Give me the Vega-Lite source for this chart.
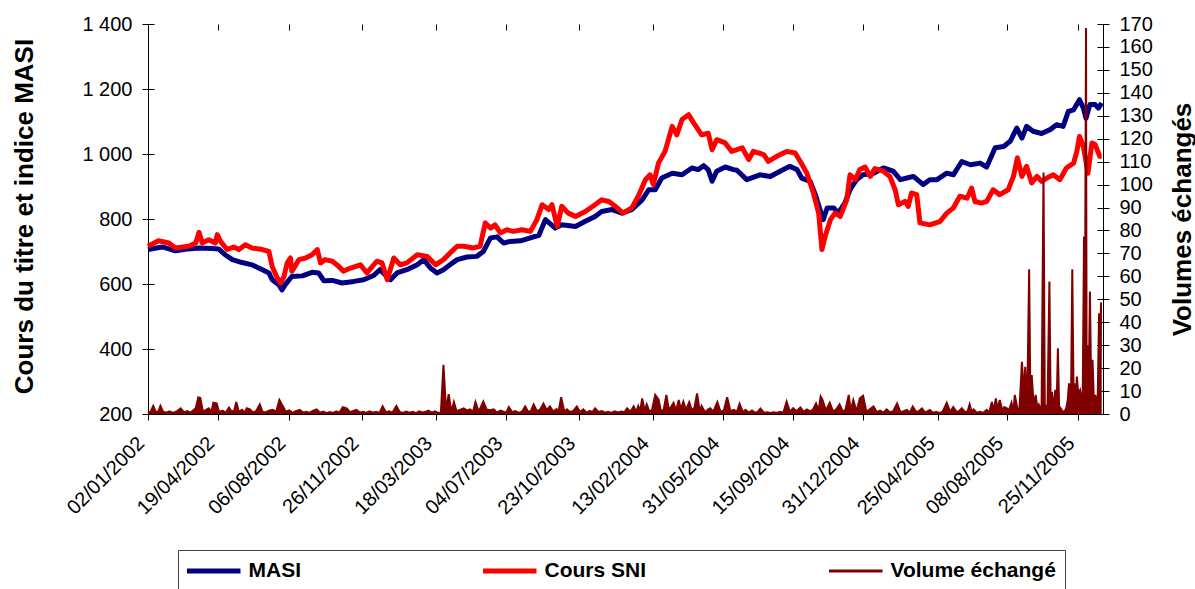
{
  "$schema": "https://vega.github.io/schema/vega-lite/v6.json",
  "width": 955,
  "height": 390,
  "autosize": "none",
  "padding": {"left": 148, "top": 24, "right": 92, "bottom": 175},
  "background": "white",
  "config": {
    "view": {"stroke": null},
    "font": "Liberation Sans",
    "axis": {"domainColor": "#000", "tickColor": "#000", "labelColor": "#000", "titleColor": "#000", "labelFont": "Liberation Sans", "labelFontSize": 20, "grid": false, "domainWidth": 1, "tickWidth": 1, "titleFont": "Liberation Sans", "titleFontSize": 26, "titleFontWeight": "bold"}
  },
  "datasets": {
    "masi": [
      {"d":"2002-01-02","v":706},{"d":"2002-01-24","v":714},{"d":"2002-02-13","v":702},{"d":"2002-03-05","v":708},{"d":"2002-03-21","v":711},{"d":"2002-04-10","v":709},{"d":"2002-04-20","v":708},{"d":"2002-04-30","v":690},{"d":"2002-05-11","v":675},{"d":"2002-05-26","v":666},{"d":"2002-06-10","v":659},{"d":"2002-06-26","v":644},{"d":"2002-07-06","v":634},{"d":"2002-07-11","v":613},{"d":"2002-07-21","v":598},{"d":"2002-07-26","v":582},{"d":"2002-07-31","v":598},{"d":"2002-08-10","v":623},{"d":"2002-08-26","v":625},{"d":"2002-09-10","v":636},{"d":"2002-09-20","v":634},{"d":"2002-09-28","v":610},{"d":"2002-10-11","v":611},{"d":"2002-10-26","v":603},{"d":"2002-11-13","v":608},{"d":"2002-11-28","v":613},{"d":"2002-12-13","v":626},{"d":"2002-12-23","v":644},{"d":"2002-12-31","v":628},
      {"d":"2003-01-08","v":613},{"d":"2003-01-18","v":634},{"d":"2003-02-02","v":644},{"d":"2003-02-18","v":659},{"d":"2003-02-28","v":675},{"d":"2003-03-10","v":649},{"d":"2003-03-20","v":634},{"d":"2003-03-30","v":644},{"d":"2003-04-09","v":659},{"d":"2003-04-20","v":675},{"d":"2003-05-05","v":683},{"d":"2003-05-20","v":685},{"d":"2003-05-30","v":700},{"d":"2003-06-10","v":742},{"d":"2003-06-20","v":745},{"d":"2003-06-30","v":726},{"d":"2003-07-10","v":731},{"d":"2003-07-26","v":733},{"d":"2003-08-10","v":742},{"d":"2003-08-23","v":750},{"d":"2003-09-02","v":798},{"d":"2003-09-17","v":772},{"d":"2003-09-27","v":782},{"d":"2003-10-18","v":777},{"d":"2003-11-02","v":793},{"d":"2003-11-17","v":808},{"d":"2003-11-27","v":823},{"d":"2003-12-13","v":829},{"d":"2003-12-28","v":818},
      {"d":"2004-01-12","v":829},{"d":"2004-01-28","v":859},{"d":"2004-02-07","v":890},{"d":"2004-02-17","v":890},{"d":"2004-02-27","v":926},{"d":"2004-03-14","v":941},{"d":"2004-03-29","v":936},{"d":"2004-04-13","v":957},{"d":"2004-04-23","v":952},{"d":"2004-05-01","v":964},{"d":"2004-05-08","v":952},{"d":"2004-05-14","v":916},{"d":"2004-05-21","v":947},{"d":"2004-06-03","v":960},{"d":"2004-06-16","v":952},{"d":"2004-06-21","v":950},{"d":"2004-07-06","v":921},{"d":"2004-07-26","v":936},{"d":"2004-08-11","v":931},{"d":"2004-08-26","v":947},{"d":"2004-09-10","v":962},{"d":"2004-09-21","v":952},{"d":"2004-09-28","v":926},{"d":"2004-10-11","v":916},{"d":"2004-10-19","v":875},{"d":"2004-10-26","v":829},{"d":"2004-10-31","v":798},{"d":"2004-11-06","v":834},{"d":"2004-11-16","v":834},{"d":"2004-11-23","v":818},{"d":"2004-12-03","v":849},{"d":"2004-12-11","v":890},{"d":"2004-12-21","v":921},{"d":"2004-12-31","v":936},
      {"d":"2005-01-16","v":941},{"d":"2005-01-31","v":957},{"d":"2005-02-15","v":947},{"d":"2005-02-26","v":921},{"d":"2005-03-08","v":926},{"d":"2005-03-18","v":931},{"d":"2005-04-02","v":906},{"d":"2005-04-12","v":921},{"d":"2005-04-23","v":921},{"d":"2005-05-08","v":941},{"d":"2005-05-18","v":936},{"d":"2005-05-31","v":977},{"d":"2005-06-13","v":967},{"d":"2005-06-28","v":972},{"d":"2005-07-08","v":960},{"d":"2005-07-21","v":1019},{"d":"2005-08-03","v":1023},{"d":"2005-08-13","v":1039},{"d":"2005-08-23","v":1080},{"d":"2005-08-31","v":1049},{"d":"2005-09-07","v":1085},{"d":"2005-09-17","v":1070},{"d":"2005-09-30","v":1063},{"d":"2005-10-13","v":1075},{"d":"2005-10-23","v":1090},{"d":"2005-11-02","v":1085},{"d":"2005-11-10","v":1131},{"d":"2005-11-18","v":1136},{"d":"2005-11-27","v":1167},{"d":"2005-12-03","v":1141},{"d":"2005-12-07","v":1110},{"d":"2005-12-13","v":1152},{"d":"2005-12-21","v":1152},{"d":"2005-12-26","v":1141},{"d":"2005-12-31","v":1157}
    ],
    "sni": [
      {"d":"2002-01-02","v":716},{"d":"2002-01-18","v":733},{"d":"2002-02-03","v":726},{"d":"2002-02-13","v":711},{"d":"2002-03-05","v":716},{"d":"2002-03-16","v":726},{"d":"2002-03-21","v":759},{"d":"2002-03-26","v":726},{"d":"2002-04-05","v":736},{"d":"2002-04-15","v":726},{"d":"2002-04-18","v":752},{"d":"2002-04-23","v":731},{"d":"2002-05-03","v":706},{"d":"2002-05-13","v":714},{"d":"2002-05-21","v":706},{"d":"2002-05-31","v":721},{"d":"2002-06-10","v":711},{"d":"2002-06-26","v":706},{"d":"2002-07-06","v":700},{"d":"2002-07-11","v":654},{"d":"2002-07-19","v":618},{"d":"2002-07-24","v":603},{"d":"2002-07-29","v":623},{"d":"2002-08-03","v":665},{"d":"2002-08-08","v":680},{"d":"2002-08-10","v":639},{"d":"2002-08-21","v":675},{"d":"2002-08-31","v":680},{"d":"2002-09-10","v":690},{"d":"2002-09-18","v":706},{"d":"2002-09-23","v":665},{"d":"2002-09-30","v":675},{"d":"2002-10-11","v":670},{"d":"2002-10-21","v":654},{"d":"2002-10-28","v":639},{"d":"2002-11-08","v":649},{"d":"2002-11-23","v":659},{"d":"2002-12-03","v":634},{"d":"2002-12-18","v":670},{"d":"2002-12-26","v":665},
      {"d":"2003-01-03","v":613},{"d":"2003-01-13","v":680},{"d":"2003-01-23","v":659},{"d":"2003-02-02","v":665},{"d":"2003-02-18","v":690},{"d":"2003-03-05","v":685},{"d":"2003-03-18","v":659},{"d":"2003-03-30","v":675},{"d":"2003-04-09","v":695},{"d":"2003-04-20","v":716},{"d":"2003-04-30","v":716},{"d":"2003-05-15","v":711},{"d":"2003-05-25","v":716},{"d":"2003-06-02","v":788},{"d":"2003-06-10","v":772},{"d":"2003-06-17","v":782},{"d":"2003-06-25","v":757},{"d":"2003-07-05","v":767},{"d":"2003-07-15","v":762},{"d":"2003-07-28","v":767},{"d":"2003-08-10","v":762},{"d":"2003-08-20","v":798},{"d":"2003-08-28","v":844},{"d":"2003-09-07","v":829},{"d":"2003-09-12","v":844},{"d":"2003-09-20","v":777},{"d":"2003-09-27","v":839},{"d":"2003-10-07","v":818},{"d":"2003-10-18","v":808},{"d":"2003-11-02","v":823},{"d":"2003-11-17","v":844},{"d":"2003-11-27","v":859},{"d":"2003-12-08","v":854},{"d":"2003-12-18","v":839},{"d":"2003-12-30","v":818},
      {"d":"2004-01-12","v":834},{"d":"2004-01-22","v":870},{"d":"2004-02-02","v":921},{"d":"2004-02-09","v":936},{"d":"2004-02-14","v":906},{"d":"2004-02-22","v":972},{"d":"2004-03-03","v":1008},{"d":"2004-03-14","v":1085},{"d":"2004-03-21","v":1059},{"d":"2004-03-29","v":1106},{"d":"2004-04-08","v":1121},{"d":"2004-04-16","v":1095},{"d":"2004-04-28","v":1059},{"d":"2004-05-08","v":1064},{"d":"2004-05-14","v":1013},{"d":"2004-05-21","v":1044},{"d":"2004-06-03","v":1034},{"d":"2004-06-13","v":1008},{"d":"2004-06-29","v":1019},{"d":"2004-07-09","v":983},{"d":"2004-07-16","v":1008},{"d":"2004-08-01","v":998},{"d":"2004-08-08","v":977},{"d":"2004-08-21","v":993},{"d":"2004-09-05","v":1008},{"d":"2004-09-18","v":1003},{"d":"2004-09-26","v":977},{"d":"2004-10-06","v":941},{"d":"2004-10-16","v":880},{"d":"2004-10-24","v":818},{"d":"2004-10-29","v":706},{"d":"2004-11-03","v":747},{"d":"2004-11-11","v":798},{"d":"2004-11-18","v":818},{"d":"2004-11-26","v":808},{"d":"2004-12-06","v":859},{"d":"2004-12-11","v":936},{"d":"2004-12-19","v":921},{"d":"2004-12-26","v":952},
      {"d":"2005-01-03","v":960},{"d":"2005-01-11","v":931},{"d":"2005-01-18","v":955},{"d":"2005-01-31","v":947},{"d":"2005-02-10","v":931},{"d":"2005-02-18","v":890},{"d":"2005-02-23","v":844},{"d":"2005-03-05","v":854},{"d":"2005-03-10","v":839},{"d":"2005-03-15","v":880},{"d":"2005-03-23","v":875},{"d":"2005-03-28","v":788},{"d":"2005-04-12","v":782},{"d":"2005-04-28","v":793},{"d":"2005-05-08","v":818},{"d":"2005-05-18","v":834},{"d":"2005-05-28","v":870},{"d":"2005-06-08","v":864},{"d":"2005-06-15","v":895},{"d":"2005-06-20","v":854},{"d":"2005-06-30","v":849},{"d":"2005-07-08","v":854},{"d":"2005-07-18","v":890},{"d":"2005-07-28","v":875},{"d":"2005-08-10","v":890},{"d":"2005-08-18","v":931},{"d":"2005-08-24","v":988},{"d":"2005-08-31","v":931},{"d":"2005-09-07","v":962},{"d":"2005-09-15","v":911},{"d":"2005-09-23","v":931},{"d":"2005-09-30","v":916},{"d":"2005-10-08","v":926},{"d":"2005-10-18","v":936},{"d":"2005-10-28","v":921},{"d":"2005-11-07","v":957},{"d":"2005-11-18","v":972},{"d":"2005-11-23","v":1008},{"d":"2005-11-27","v":1054},{"d":"2005-12-03","v":1023},{"d":"2005-12-10","v":941},{"d":"2005-12-16","v":1034},{"d":"2005-12-21","v":1029},{"d":"2005-12-28","v":993},{"d":"2005-12-31","v":993}
    ],
    "vol": [
      {"d":"2002-01-02","v":0.4},{"d":"2002-01-06","v":1.0},{"d":"2002-01-10","v":3.5},{"d":"2002-01-14","v":0.8},{"d":"2002-01-18","v":1.2},{"d":"2002-01-21","v":3.5},{"d":"2002-01-25","v":1.0},{"d":"2002-01-30","v":0.6},{"d":"2002-02-04","v":1.2},{"d":"2002-02-09","v":0.5},{"d":"2002-02-14","v":1.0},{"d":"2002-02-21","v":2.5},{"d":"2002-02-26","v":0.7},{"d":"2002-03-03","v":1.3},{"d":"2002-03-08","v":0.6},{"d":"2002-03-12","v":1.5},{"d":"2002-03-16","v":2.5},{"d":"2002-03-20","v":7.3},{"d":"2002-03-23","v":7.0},{"d":"2002-03-27","v":1.0},{"d":"2002-04-01","v":1.8},{"d":"2002-04-05","v":2.5},{"d":"2002-04-09","v":1.0},{"d":"2002-04-12","v":4.9},{"d":"2002-04-17","v":4.6},{"d":"2002-04-21","v":0.8},{"d":"2002-04-26","v":1.5},{"d":"2002-05-01","v":0.6},{"d":"2002-05-06","v":2.8},{"d":"2002-05-10","v":1.0},{"d":"2002-05-14","v":1.6},{"d":"2002-05-17","v":5.2},{"d":"2002-05-21","v":1.0},{"d":"2002-05-26","v":1.8},{"d":"2002-05-30","v":0.6},{"d":"2002-06-02","v":2.5},{"d":"2002-06-07","v":2.0},{"d":"2002-06-12","v":0.6},{"d":"2002-06-17","v":1.5},{"d":"2002-06-22","v":4.2},{"d":"2002-06-26","v":1.0},{"d":"2002-07-01","v":0.7},{"d":"2002-07-06","v":1.4},{"d":"2002-07-12","v":1.8},{"d":"2002-07-17","v":0.9},{"d":"2002-07-22","v":6.1},{"d":"2002-07-27","v":3.5},{"d":"2002-08-01","v":1.0},{"d":"2002-08-06","v":1.6},{"d":"2002-08-11","v":0.5},{"d":"2002-08-16","v":1.2},{"d":"2002-08-22","v":1.8},{"d":"2002-08-27","v":0.6},{"d":"2002-09-01","v":1.0},{"d":"2002-09-06","v":0.5},{"d":"2002-09-11","v":1.3},{"d":"2002-09-17","v":2.0},{"d":"2002-09-22","v":0.6},{"d":"2002-09-27","v":1.1},{"d":"2002-10-02","v":0.4},{"d":"2002-10-07","v":0.9},{"d":"2002-10-12","v":0.5},{"d":"2002-10-17","v":1.2},{"d":"2002-10-22","v":0.6},{"d":"2002-10-27","v":3.0},{"d":"2002-11-02","v":2.5},{"d":"2002-11-07","v":0.8},{"d":"2002-11-12","v":1.3},{"d":"2002-11-17","v":1.8},{"d":"2002-11-22","v":0.6},{"d":"2002-11-27","v":1.0},{"d":"2002-12-02","v":0.5},{"d":"2002-12-07","v":1.2},{"d":"2002-12-12","v":0.6},{"d":"2002-12-17","v":1.0},{"d":"2002-12-22","v":0.5},{"d":"2002-12-27","v":3.3},
      {"d":"2003-01-01","v":0.8},{"d":"2003-01-06","v":1.2},{"d":"2003-01-11","v":0.6},{"d":"2003-01-17","v":3.5},{"d":"2003-01-22","v":0.9},{"d":"2003-01-27","v":0.5},{"d":"2003-02-01","v":1.1},{"d":"2003-02-06","v":0.6},{"d":"2003-02-11","v":1.0},{"d":"2003-02-16","v":0.4},{"d":"2003-02-21","v":1.2},{"d":"2003-02-26","v":0.7},{"d":"2003-03-03","v":1.0},{"d":"2003-03-07","v":1.5},{"d":"2003-03-12","v":0.6},{"d":"2003-03-17","v":1.2},{"d":"2003-03-22","v":0.5},{"d":"2003-03-26","v":0.3},{"d":"2003-03-30","v":21.4},{"d":"2003-04-03","v":1.5},{"d":"2003-04-07","v":8.7},{"d":"2003-04-11","v":1.0},{"d":"2003-04-15","v":5.2},{"d":"2003-04-19","v":1.2},{"d":"2003-04-24","v":1.8},{"d":"2003-04-30","v":2.5},{"d":"2003-05-05","v":1.5},{"d":"2003-05-10","v":2.0},{"d":"2003-05-14","v":0.8},{"d":"2003-05-18","v":5.2},{"d":"2003-05-23","v":1.0},{"d":"2003-05-30","v":5.4},{"d":"2003-06-04","v":2.0},{"d":"2003-06-09","v":1.6},{"d":"2003-06-15","v":2.0},{"d":"2003-06-20","v":0.6},{"d":"2003-06-25","v":1.5},{"d":"2003-06-30","v":1.0},{"d":"2003-07-04","v":0.6},{"d":"2003-07-08","v":3.0},{"d":"2003-07-13","v":0.8},{"d":"2003-07-18","v":1.3},{"d":"2003-07-23","v":0.5},{"d":"2003-07-28","v":1.0},{"d":"2003-08-02","v":3.3},{"d":"2003-08-07","v":0.8},{"d":"2003-08-11","v":1.5},{"d":"2003-08-15","v":4.2},{"d":"2003-08-20","v":1.2},{"d":"2003-08-25","v":2.0},{"d":"2003-08-30","v":4.5},{"d":"2003-09-04","v":1.8},{"d":"2003-09-09","v":3.3},{"d":"2003-09-14","v":1.0},{"d":"2003-09-19","v":2.2},{"d":"2003-09-22","v":0.8},{"d":"2003-09-26","v":7.3},{"d":"2003-10-01","v":1.0},{"d":"2003-10-05","v":2.0},{"d":"2003-10-10","v":0.8},{"d":"2003-10-15","v":1.5},{"d":"2003-10-20","v":3.3},{"d":"2003-10-25","v":0.9},{"d":"2003-10-30","v":2.0},{"d":"2003-11-04","v":0.6},{"d":"2003-11-09","v":1.4},{"d":"2003-11-13","v":0.8},{"d":"2003-11-17","v":2.5},{"d":"2003-11-22","v":0.9},{"d":"2003-11-27","v":1.3},{"d":"2003-12-02","v":0.6},{"d":"2003-12-07","v":1.0},{"d":"2003-12-12","v":0.5},{"d":"2003-12-17","v":1.2},{"d":"2003-12-22","v":0.7},{"d":"2003-12-27","v":1.1},
      {"d":"2004-01-01","v":0.8},{"d":"2004-01-05","v":2.5},{"d":"2004-01-10","v":1.0},{"d":"2004-01-15","v":3.3},{"d":"2004-01-19","v":0.9},{"d":"2004-01-22","v":3.5},{"d":"2004-01-25","v":1.2},{"d":"2004-01-28","v":6.8},{"d":"2004-02-01","v":1.5},{"d":"2004-02-04","v":4.2},{"d":"2004-02-08","v":1.0},{"d":"2004-02-12","v":1.8},{"d":"2004-02-17","v":8.3},{"d":"2004-02-22","v":6.4},{"d":"2004-02-26","v":1.0},{"d":"2004-03-01","v":2.0},{"d":"2004-03-05","v":8.3},{"d":"2004-03-09","v":1.5},{"d":"2004-03-12","v":3.0},{"d":"2004-03-16","v":4.9},{"d":"2004-03-20","v":1.5},{"d":"2004-03-24","v":6.1},{"d":"2004-03-27","v":2.0},{"d":"2004-03-31","v":5.4},{"d":"2004-04-04","v":1.8},{"d":"2004-04-09","v":5.2},{"d":"2004-04-13","v":1.5},{"d":"2004-04-17","v":2.8},{"d":"2004-04-21","v":9.0},{"d":"2004-04-25","v":1.2},{"d":"2004-04-28","v":3.5},{"d":"2004-05-03","v":0.8},{"d":"2004-05-07","v":1.8},{"d":"2004-05-11","v":2.5},{"d":"2004-05-16","v":1.0},{"d":"2004-05-22","v":5.2},{"d":"2004-05-27","v":1.0},{"d":"2004-06-01","v":1.5},{"d":"2004-06-06","v":7.3},{"d":"2004-06-11","v":1.2},{"d":"2004-06-16","v":1.8},{"d":"2004-06-21","v":1.0},{"d":"2004-06-25","v":4.5},{"d":"2004-06-30","v":0.8},{"d":"2004-07-04","v":1.8},{"d":"2004-07-09","v":0.6},{"d":"2004-07-14","v":1.5},{"d":"2004-07-19","v":0.5},{"d":"2004-07-23","v":1.0},{"d":"2004-07-27","v":2.4},{"d":"2004-08-01","v":0.6},{"d":"2004-08-06","v":0.8},{"d":"2004-08-11","v":0.4},{"d":"2004-08-16","v":0.8},{"d":"2004-08-21","v":0.5},{"d":"2004-08-26","v":1.0},{"d":"2004-08-31","v":0.6},{"d":"2004-09-05","v":5.4},{"d":"2004-09-10","v":1.0},{"d":"2004-09-15","v":2.5},{"d":"2004-09-20","v":1.2},{"d":"2004-09-26","v":2.8},{"d":"2004-10-01","v":1.0},{"d":"2004-10-06","v":2.0},{"d":"2004-10-11","v":1.2},{"d":"2004-10-15","v":1.8},{"d":"2004-10-20","v":4.6},{"d":"2004-10-24","v":1.5},{"d":"2004-10-27","v":7.6},{"d":"2004-10-30","v":6.1},{"d":"2004-11-04","v":1.5},{"d":"2004-11-10","v":4.9},{"d":"2004-11-15","v":1.2},{"d":"2004-11-20","v":2.0},{"d":"2004-11-25","v":4.2},{"d":"2004-11-30","v":1.0},{"d":"2004-12-04","v":1.8},{"d":"2004-12-09","v":8.3},{"d":"2004-12-12","v":1.5},{"d":"2004-12-16","v":6.1},{"d":"2004-12-21","v":1.2},{"d":"2004-12-26","v":6.8},{"d":"2004-12-31","v":7.9},
      {"d":"2005-01-05","v":1.0},{"d":"2005-01-10","v":2.0},{"d":"2005-01-16","v":3.3},{"d":"2005-01-21","v":0.8},{"d":"2005-01-26","v":1.5},{"d":"2005-01-31","v":0.6},{"d":"2005-02-05","v":2.0},{"d":"2005-02-10","v":0.8},{"d":"2005-02-15","v":1.2},{"d":"2005-02-21","v":4.6},{"d":"2005-02-26","v":0.8},{"d":"2005-03-03","v":1.2},{"d":"2005-03-08","v":1.8},{"d":"2005-03-12","v":0.6},{"d":"2005-03-17","v":3.3},{"d":"2005-03-22","v":0.9},{"d":"2005-03-26","v":1.2},{"d":"2005-03-31","v":2.4},{"d":"2005-04-05","v":0.6},{"d":"2005-04-12","v":1.8},{"d":"2005-04-17","v":0.5},{"d":"2005-04-22","v":1.0},{"d":"2005-04-27","v":0.4},{"d":"2005-05-02","v":1.2},{"d":"2005-05-08","v":4.9},{"d":"2005-05-13","v":1.0},{"d":"2005-05-18","v":3.0},{"d":"2005-05-23","v":0.8},{"d":"2005-05-27","v":1.3},{"d":"2005-05-31","v":2.5},{"d":"2005-06-05","v":0.8},{"d":"2005-06-09","v":1.2},{"d":"2005-06-12","v":4.2},{"d":"2005-06-15","v":1.0},{"d":"2005-06-18","v":2.0},{"d":"2005-06-23","v":0.6},{"d":"2005-06-28","v":1.0},{"d":"2005-07-03","v":0.5},{"d":"2005-07-08","v":1.8},{"d":"2005-07-12","v":0.8},{"d":"2005-07-16","v":5.2},{"d":"2005-07-19","v":1.5},{"d":"2005-07-22","v":6.8},{"d":"2005-07-25","v":2.0},{"d":"2005-07-28","v":6.1},{"d":"2005-08-01","v":1.5},{"d":"2005-08-04","v":3.0},{"d":"2005-08-08","v":2.5},{"d":"2005-08-11","v":1.5},{"d":"2005-08-15","v":4.9},{"d":"2005-08-18","v":1.2},{"d":"2005-08-20","v":8.3},{"d":"2005-08-24","v":2.5},{"d":"2005-08-27","v":1.0},{"d":"2005-08-31","v":22.8},{"d":"2005-09-03","v":8.0},{"d":"2005-09-05","v":20.6},{"d":"2005-09-08","v":2.0},{"d":"2005-09-11","v":63.1},{"d":"2005-09-13","v":4.0},{"d":"2005-09-15","v":17.0},{"d":"2005-09-18","v":3.0},{"d":"2005-09-21","v":8.3},{"d":"2005-09-24","v":1.5},{"d":"2005-09-26","v":3.9},{"d":"2005-09-30","v":1.2},{"d":"2005-10-03","v":105.3},{"d":"2005-10-05","v":1.5},{"d":"2005-10-07","v":3.9},{"d":"2005-10-09","v":1.0},{"d":"2005-10-12","v":57.7},{"d":"2005-10-14","v":2.0},{"d":"2005-10-16","v":9.7},{"d":"2005-10-18","v":1.5},{"d":"2005-10-21","v":10.5},{"d":"2005-10-23","v":2.0},{"d":"2005-10-25","v":28.7},{"d":"2005-10-27","v":1.0},{"d":"2005-10-29","v":2.5},{"d":"2005-11-02","v":0.8},{"d":"2005-11-05","v":1.5},{"d":"2005-11-07","v":2.9},{"d":"2005-11-09","v":6.0},{"d":"2005-11-11","v":13.4},{"d":"2005-11-14","v":4.0},{"d":"2005-11-16","v":63.1},{"d":"2005-11-18","v":8.0},{"d":"2005-11-19","v":13.4},{"d":"2005-11-21","v":5.0},{"d":"2005-11-23","v":16.3},{"d":"2005-11-25","v":9.0},{"d":"2005-11-28","v":10.5},{"d":"2005-11-30","v":7.0},{"d":"2005-12-02","v":8.9},{"d":"2005-12-04","v":77.4},{"d":"2005-12-05","v":5.0},{"d":"2005-12-07","v":168.3},{"d":"2005-12-08","v":6.0},{"d":"2005-12-10","v":30.0},{"d":"2005-12-11","v":7.0},{"d":"2005-12-13","v":53.4},{"d":"2005-12-15","v":10.0},{"d":"2005-12-17","v":23.6},{"d":"2005-12-19","v":6.0},{"d":"2005-12-21","v":8.3},{"d":"2005-12-23","v":5.0},{"d":"2005-12-25","v":8.3},{"d":"2005-12-27","v":43.9},{"d":"2005-12-28","v":10.0},{"d":"2005-12-30","v":48.3},{"d":"2005-12-31","v":48.3}
    ]
  },
  "layer": [
    {
      "data": {"name": "masi"},
      "mark": {"type": "line", "strokeWidth": 5, "strokeJoin": "round"},
      "encoding": {
        "x": {"field": "d", "type": "temporal",
          "scale": {"type": "utc", "domain": [{"year": 2002, "month": 1, "date": 2, "utc": true}, {"year": 2006, "month": 1, "date": 2, "utc": true}]},
          "axis": {"title": null, "tickSize": 6, "labelAngle": -45, "labelAlign": "right", "labelBaseline": "middle", "labelPadding": 20, "labelOffset": -7, "labelOverlap": false, "labelBound": false, "labelFlush": false,
            "labelExpr": "utcFormat(datum.value, '%d/%m/%Y')",
            "values": [{"year":2002,"month":1,"date":2,"utc":true},{"year":2002,"month":4,"date":19,"utc":true},{"year":2002,"month":8,"date":6,"utc":true},{"year":2002,"month":11,"date":26,"utc":true},{"year":2003,"month":3,"date":18,"utc":true},{"year":2003,"month":7,"date":4,"utc":true},{"year":2003,"month":10,"date":23,"utc":true},{"year":2004,"month":2,"date":13,"utc":true},{"year":2004,"month":5,"date":31,"utc":true},{"year":2004,"month":9,"date":15,"utc":true},{"year":2004,"month":12,"date":31,"utc":true},{"year":2005,"month":4,"date":25,"utc":true},{"year":2005,"month":8,"date":8,"utc":true},{"year":2005,"month":11,"date":25,"utc":true}]}},
        "y": {"field": "v", "type": "quantitative",
          "scale": {"domain": [200, 1400], "nice": false, "zero": false},
          "axis": {"orient": "left", "values": [200, 400, 600, 800, 1000, 1200, 1400], "labelExpr": "replace(format(datum.value, ','), ',', ' ')", "tickSize": 6, "labelPadding": 10,
            "title": "Cours du titre et indice MASI", "titleAngle": 270, "titleX": -116, "titleY": 192, "titleAlign": "center", "titleBaseline": "alphabetic"}},
        "color": {"datum": "MASI", "type": "nominal",
          "scale": {"domain": ["MASI", "Cours SNI", "Volume échangé"], "range": ["#000080", "#FF0000", "#800000"]},
          "legend": {"orient": "none", "legendX": 30, "legendY": 526, "direction": "horizontal", "columns": 3, "columnPadding": 182,
            "symbolType": "stroke", "symbolSize": 3025, "symbolStrokeWidth": 5, "symbolOffset": 15.5, "clipHeight": 24,
            "labelFont": "Liberation Sans", "labelFontSize": 21, "labelFontWeight": "bold", "labelColor": "#000", "labelOffset": 25, "labelLimit": 400,
            "padding": 9, "strokeColor": "#404040", "fillColor": "#ffffff", "title": null,
            "encode": {"symbols": {"update": {"strokeWidth": {"signal": "datum.value === 'Volume échangé' ? 3 : 5"}}}}}}
      }
    },
    {
      "data": {"name": "sni"},
      "mark": {"type": "line", "strokeWidth": 5, "strokeJoin": "round"},
      "encoding": {
        "x": {"field": "d", "type": "temporal",
          "scale": {"type": "utc", "domain": [{"year": 2002, "month": 1, "date": 2, "utc": true}, {"year": 2006, "month": 1, "date": 2, "utc": true}]},
          "axis": {"title": null, "tickSize": -6, "labels": false, "domain": false,
            "values": [{"year":2002,"month":1,"date":2,"utc":true},{"year":2002,"month":4,"date":19,"utc":true},{"year":2002,"month":8,"date":6,"utc":true},{"year":2002,"month":11,"date":26,"utc":true},{"year":2003,"month":3,"date":18,"utc":true},{"year":2003,"month":7,"date":4,"utc":true},{"year":2003,"month":10,"date":23,"utc":true},{"year":2004,"month":2,"date":13,"utc":true},{"year":2004,"month":5,"date":31,"utc":true},{"year":2004,"month":9,"date":15,"utc":true},{"year":2004,"month":12,"date":31,"utc":true},{"year":2005,"month":4,"date":25,"utc":true},{"year":2005,"month":8,"date":8,"utc":true},{"year":2005,"month":11,"date":25,"utc":true}]}},
        "y": {"field": "v", "type": "quantitative",
          "scale": {"domain": [200, 1400], "nice": false, "zero": false},
          "axis": {"orient": "left", "values": [200, 400, 600, 800, 1000, 1200, 1400], "tickSize": -6, "labels": false, "domain": false, "title": null}},
        "color": {"datum": "Cours SNI", "type": "nominal"}
      }
    },
    {
      "data": {"name": "vol"},
      "mark": {"type": "area", "color": "#800000"},
      "encoding": {
        "x": {"field": "d", "type": "temporal",
          "scale": {"type": "utc", "domain": [{"year": 2002, "month": 1, "date": 2, "utc": true}, {"year": 2006, "month": 1, "date": 2, "utc": true}]},
          "axis": null},
        "y": {"field": "v", "type": "quantitative",
          "scale": {"domain": [0, 170], "nice": false},
          "axis": null}
      }
    },
    {
      "data": {"name": "vol"},
      "mark": {"type": "line", "strokeWidth": 2},
      "encoding": {
        "x": {"field": "d", "type": "temporal",
          "scale": {"type": "utc", "domain": [{"year": 2002, "month": 1, "date": 2, "utc": true}, {"year": 2006, "month": 1, "date": 2, "utc": true}]},
          "axis": null},
        "y": {"field": "v", "type": "quantitative",
          "scale": {"domain": [0, 170], "nice": false},
          "axis": {"orient": "right", "values": [0,10,20,30,40,50,60,70,80,90,100,110,120,130,140,150,160,170], "tickSize": 6, "labelPadding": 10,
            "title": "Volumes échangés", "titleAngle": 270, "titleX": 87, "titleY": 195, "titleAlign": "center", "titleBaseline": "alphabetic"}},
        "color": {"datum": "Volume échangé", "type": "nominal"}
      }
    },
    {
      "data": {"name": "vol"},
      "mark": {"type": "line", "opacity": 0},
      "encoding": {
        "x": {"field": "d", "type": "temporal",
          "scale": {"type": "utc", "domain": [{"year": 2002, "month": 1, "date": 2, "utc": true}, {"year": 2006, "month": 1, "date": 2, "utc": true}]},
          "axis": null},
        "y": {"field": "v", "type": "quantitative",
          "scale": {"domain": [0, 170], "nice": false},
          "axis": {"orient": "right", "values": [0,10,20,30,40,50,60,70,80,90,100,110,120,130,140,150,160,170], "tickSize": -6, "labels": false, "domain": false, "title": null}}
      }
    }
  ],
  "resolve": {"scale": {"y": "independent"}, "axis": {"x": "independent", "y": "independent"}}
}
